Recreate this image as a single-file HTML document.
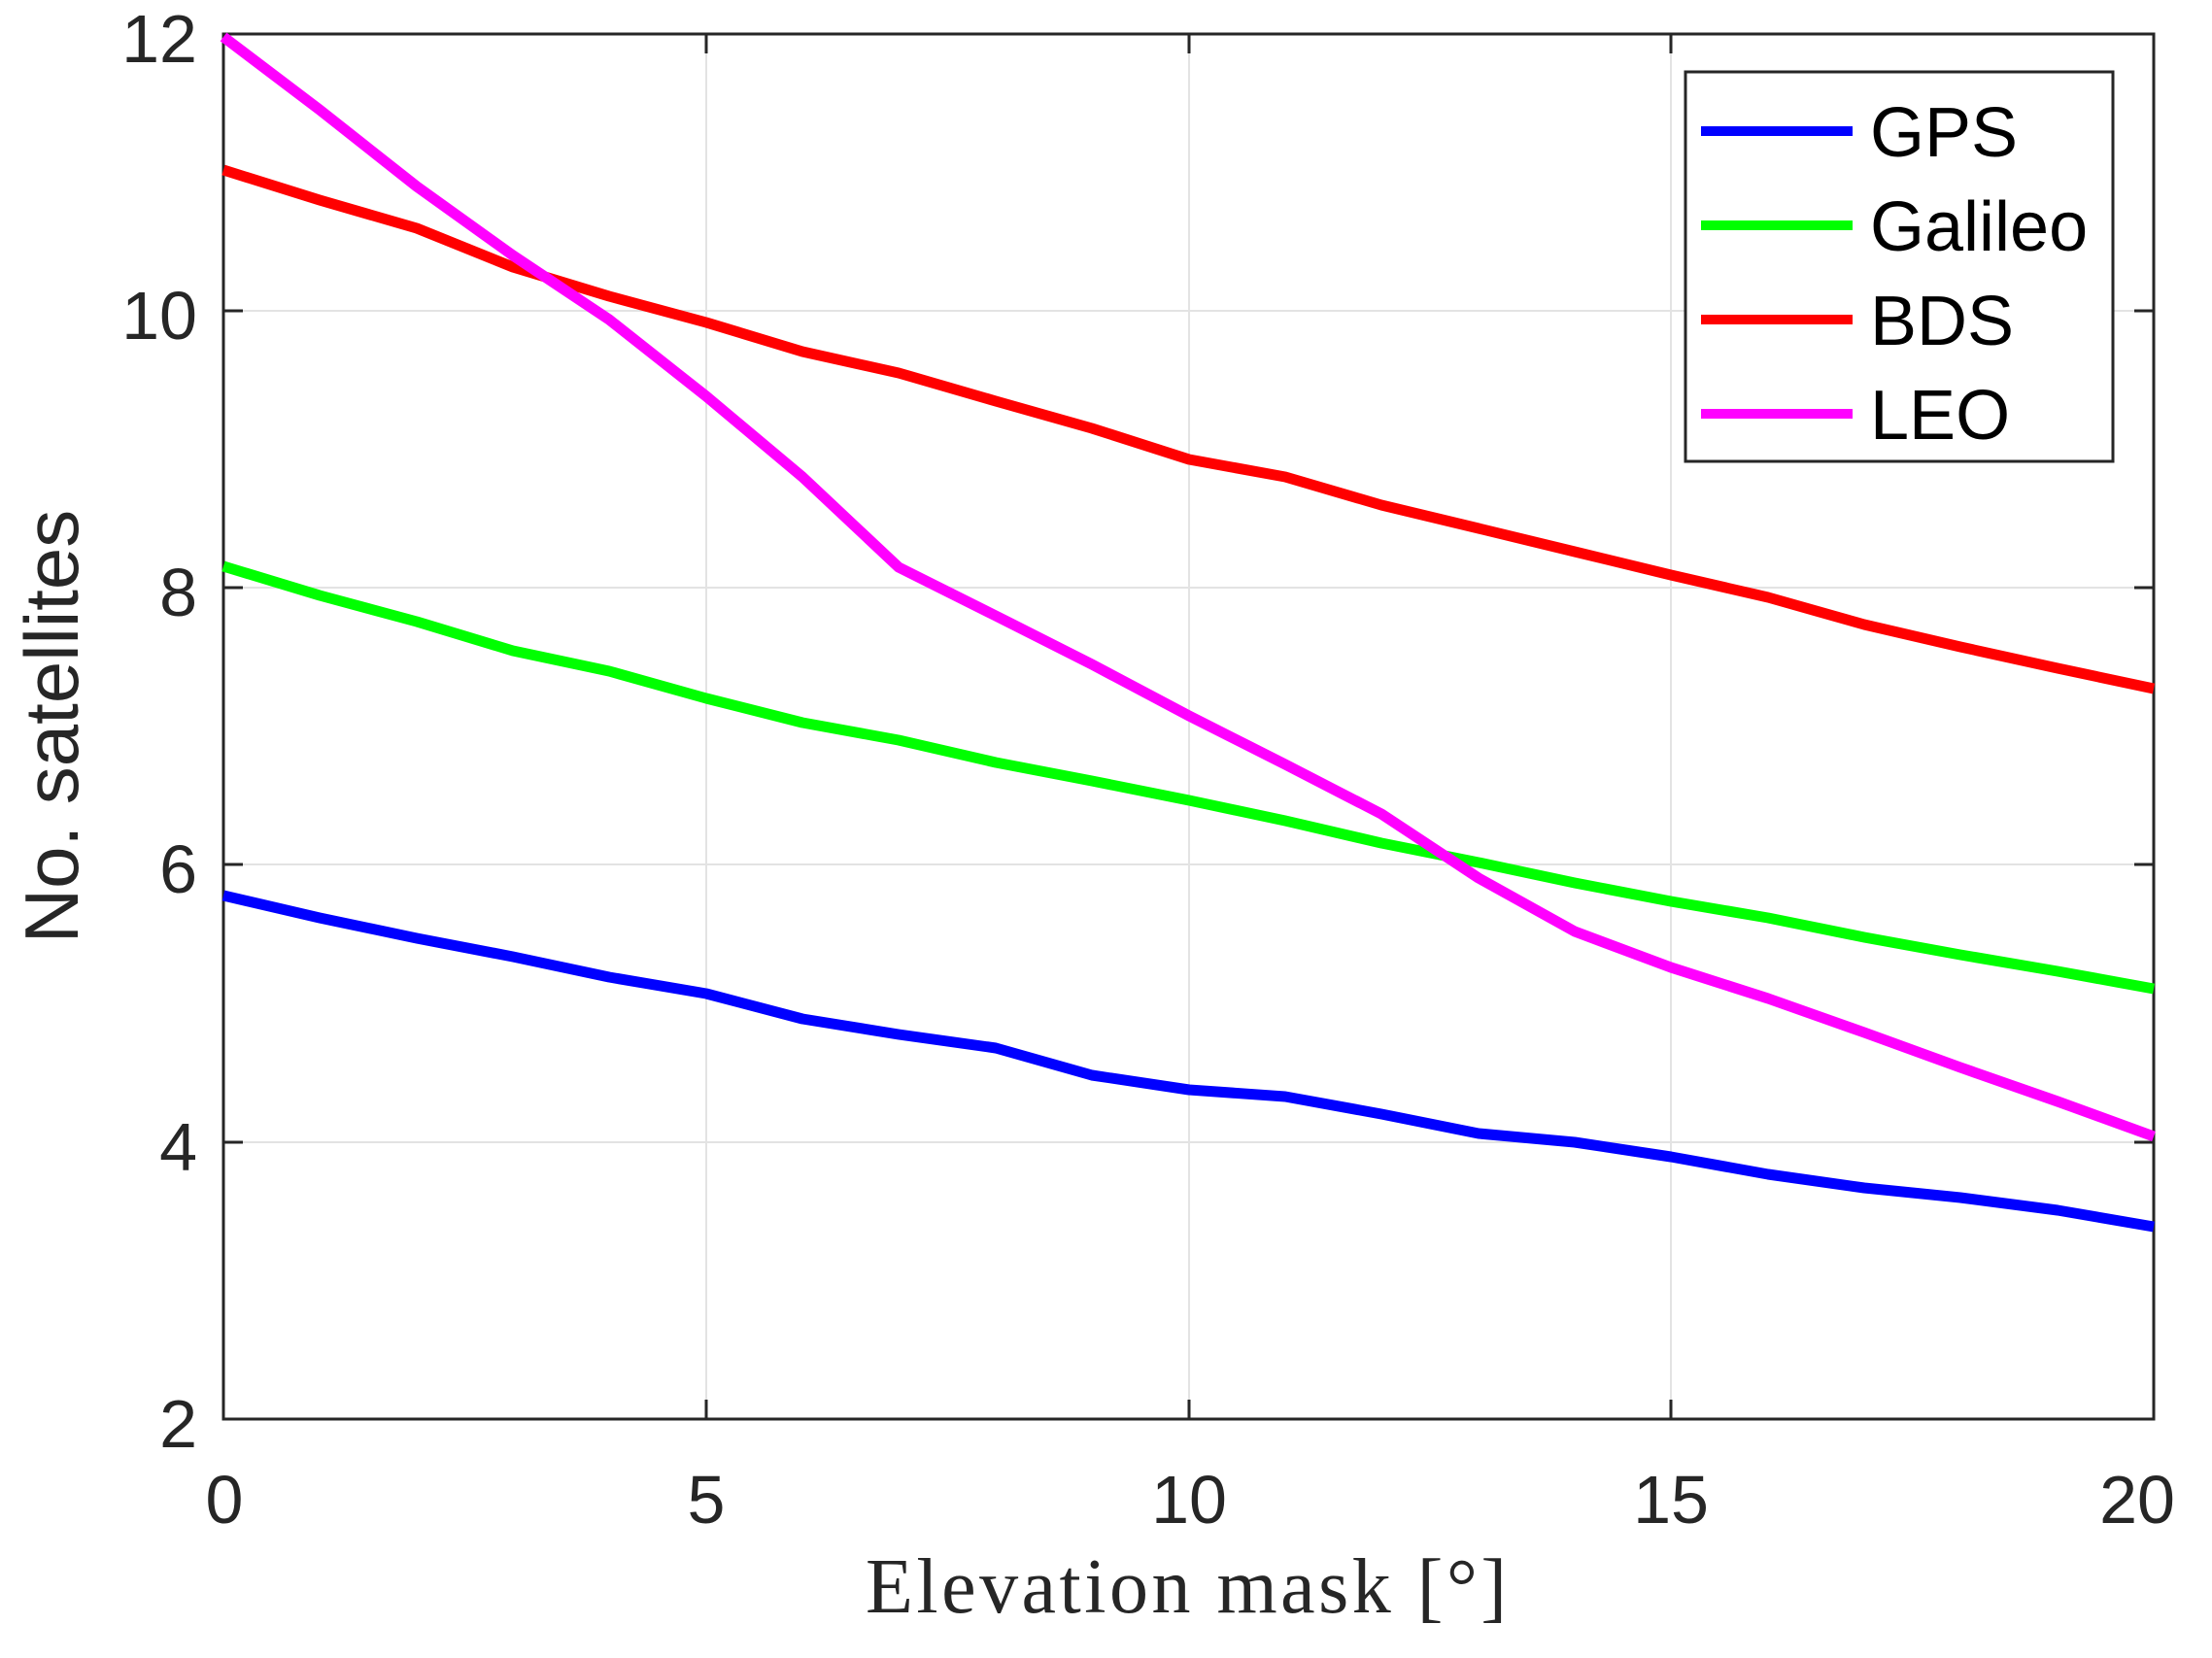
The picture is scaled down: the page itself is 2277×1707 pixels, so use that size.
<!DOCTYPE html>
<html><head><meta charset="utf-8"><style>html,body{margin:0;padding:0;background:#fff}</style></head>
<body>
<svg width="2277" height="1702" viewBox="0 0 2277 1702" xmlns="http://www.w3.org/2000/svg">
<rect width="2277" height="1702" fill="#fff"/>
<g stroke="#e3e3e3" stroke-width="2">
<line x1="727" y1="35" x2="727" y2="1461"/><line x1="1224" y1="35" x2="1224" y2="1461"/><line x1="1720" y1="35" x2="1720" y2="1461"/>
<line x1="230" y1="320" x2="2217" y2="320"/><line x1="230" y1="605" x2="2217" y2="605"/><line x1="230" y1="890" x2="2217" y2="890"/><line x1="230" y1="1176" x2="2217" y2="1176"/>
</g>
<rect x="230" y="35" width="1987" height="1426" fill="none" stroke="#262626" stroke-width="3"/>
<g stroke="#262626" stroke-width="3">
<line x1="727" y1="1461" x2="727" y2="1441"/><line x1="1224" y1="1461" x2="1224" y2="1441"/><line x1="1720" y1="1461" x2="1720" y2="1441"/>
<line x1="727" y1="35" x2="727" y2="55"/><line x1="1224" y1="35" x2="1224" y2="55"/><line x1="1720" y1="35" x2="1720" y2="55"/>
<line x1="230" y1="320" x2="250" y2="320"/><line x1="230" y1="605" x2="250" y2="605"/><line x1="230" y1="890" x2="250" y2="890"/><line x1="230" y1="1176" x2="250" y2="1176"/>
<line x1="2217" y1="320" x2="2197" y2="320"/><line x1="2217" y1="605" x2="2197" y2="605"/><line x1="2217" y1="890" x2="2197" y2="890"/><line x1="2217" y1="1176" x2="2197" y2="1176"/>
</g>
<g fill="none" stroke-width="11" stroke-linejoin="round" transform="translate(230,35)">
<polyline stroke="#0000ff" points="0,887 99,910 199,931 298,950 397,971 497,988 596,1014 695,1030 795,1044 894,1072 994,1087 1093,1094 1192,1112 1292,1132 1391,1141 1490,1156 1590,1174 1689,1188 1788,1198 1888,1211 1987,1228"/>
<polyline stroke="#00ff00" points="0,548 99,578 199,605 298,635 397,656 497,684 596,709 695,727 795,750 894,769 994,789 1093,810 1192,833 1292,853 1391,874 1490,893 1590,910 1689,930 1788,948 1888,965 1987,983"/>
<polyline stroke="#ff0000" points="0,140 99,171 199,200 298,240 397,270 497,297 596,327 695,349 795,378 894,406 994,438 1093,456 1192,485 1292,509 1391,533 1490,557 1590,580 1689,608 1788,631 1888,653 1987,674"/>
<polyline stroke="#ff00ff" points="0,3 99,78 199,157 298,228 397,294 497,373 596,456 695,549 795,599 894,649 994,702 1093,752 1192,803 1292,869 1391,924 1490,961 1590,993 1689,1028 1788,1064 1888,1099 1987,1135"/>
</g>
<rect x="1735" y="74" width="440" height="401" fill="#fff" stroke="#262626" stroke-width="3"/>
<g stroke-width="10">
<line x1="1751" y1="135" x2="1907" y2="135" stroke="#0000ff"/>
<line x1="1751" y1="232" x2="1907" y2="232" stroke="#00ff00"/>
<line x1="1751" y1="329" x2="1907" y2="329" stroke="#ff0000"/>
<line x1="1751" y1="426" x2="1907" y2="426" stroke="#ff00ff"/>
</g>
<g font-family="Liberation Sans, sans-serif" font-size="72" fill="#000">
<text x="1925" y="161">GPS</text><text x="1925" y="258">Galileo</text><text x="1925" y="355">BDS</text><text x="1925" y="452">LEO</text>
</g>
<g font-family="Liberation Sans, sans-serif" font-size="70" fill="#262626" text-anchor="end">
<text x="203" y="64">12</text><text x="203" y="349">10</text><text x="203" y="634">8</text><text x="203" y="919">6</text><text x="203" y="1205">4</text><text x="203" y="1490">2</text>
</g>
<g font-family="Liberation Sans, sans-serif" font-size="70" fill="#262626" text-anchor="middle">
<text x="231" y="1568">0</text><text x="727" y="1568">5</text><text x="1224" y="1568">10</text><text x="1720" y="1568">15</text><text x="2200" y="1568">20</text>
</g>
<text transform="translate(80,748) rotate(-90)" font-family="Liberation Sans, sans-serif" font-size="78" fill="#262626" text-anchor="middle">No. satellites</text>
<text x="1221" y="1660" font-family="Liberation Serif, serif" font-size="80" fill="#262626" text-anchor="middle" textLength="660">Elevation mask [°]</text>
</svg>
</body></html>
